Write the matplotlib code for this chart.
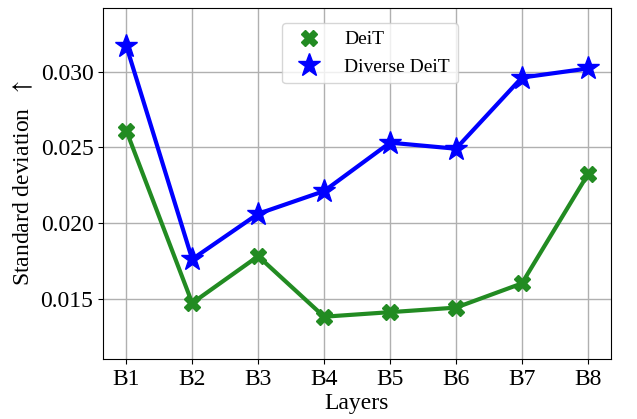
import matplotlib.pyplot as plt
from matplotlib.lines import Line2D

layers = ["B1", "B2", "B3", "B4", "B5", "B6", "B7", "B8"]
deit = [0.0261, 0.0147, 0.0178, 0.0138, 0.0141, 0.0144, 0.0160, 0.0232]
diverse_deit = [0.0317, 0.0176, 0.0206, 0.0221, 0.0253, 0.0249, 0.0296, 0.0302]

plt.rcParams['font.family'] = ['Liberation Serif', 'DejaVu Serif']
plt.rcParams['mathtext.fontset'] = 'stix'

fig, ax = plt.subplots(figsize=(6.37, 4.19), dpi=100)
x = range(len(layers))
ax.plot(x, deit, marker='X', color='forestgreen', linewidth=3, markersize=12, zorder=3)
ax.plot(x, diverse_deit, marker='*', color='blue', linewidth=3, markersize=17, zorder=3)

ax.set_xticks(list(x))
ax.set_xticklabels(layers)
ax.set_yticks([0.015, 0.020, 0.025, 0.030])
ax.set_ylim(0.011, 0.0342)
ax.tick_params(labelsize=17)
ax.set_xlabel("Layers", fontsize=17, labelpad=2)
ax.set_ylabel("Standard deviation  $\\uparrow$", fontsize=17)
ax.grid(True, color='#b0b0b0', linewidth=1)

# legend shows markers only
handles = [
    Line2D([], [], marker='X', color='forestgreen', linestyle='none', markersize=12),
    Line2D([], [], marker='*', color='blue', linestyle='none', markersize=17),
]
ax.legend(handles, ['DeiT', 'Diverse DeiT'], loc='upper center', fontsize=14,
          bbox_to_anchor=(0.525, 0.985))

fig.subplots_adjust(left=0.162, right=0.959, top=0.981, bottom=0.143)
fig.savefig("out.png", dpi=100)
